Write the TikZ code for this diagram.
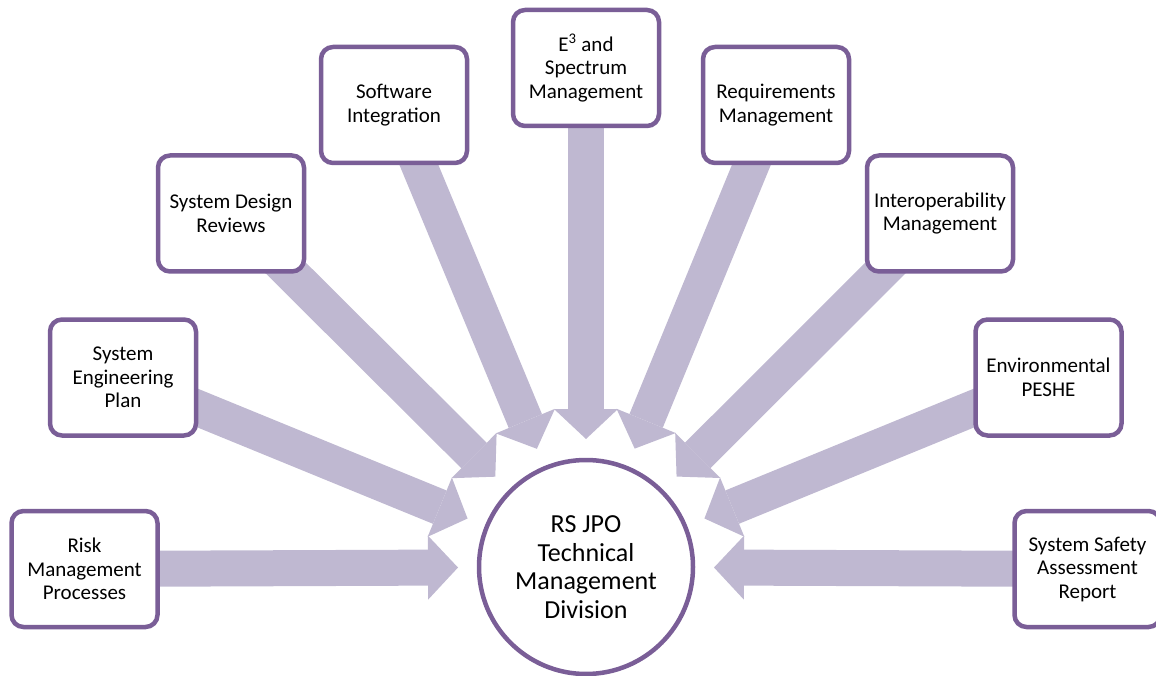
\documentclass[tikz,border=0pt]{standalone}
\usepackage{fontspec}
\setmainfont{Carlito}
\usetikzlibrary{arrows.meta,calc,backgrounds}
\definecolor{bordc}{RGB}{122,94,151}
\definecolor{arrc}{RGB}{191,184,209}
\tikzset{
 box/.style={draw=bordc, line width=4.5pt, fill=white, rounded corners=12pt,
   minimum width=146pt, minimum height=116pt, align=center,
   font=\fontsize{21}{23.5}\selectfont, inner sep=0pt},
 hub/.style={circle, draw=bordc, line width=4.5pt, fill=white, minimum size=214pt,
   align=center, font=\fontsize{26}{28.5}\selectfont, inner sep=0pt},
 bigarrow/.style={draw=arrc, line width=36pt,
   -{Triangle[length=30pt,width=64pt,line width=0pt]}},
}
\begin{document}
\begin{tikzpicture}[x=1pt,y=-1pt]
\useasboundingbox (0,0) rectangle (1156,676);
\node[hub] (hub) at (586,567) {RS JPO\\Technical\\Management\\Division};
\node[box] (risk) at (84.5,569) {Risk\\Management\\Processes};
\node[box] (sep) at (123,377.5) {System\\Engineering\\Plan};
\node[box] (sdr) at (231,213.5) {System Design\\Reviews};
\node[box] (si) at (394,105) {Software\\Integration};
\node[box] (e3) at (586,68) {E\textsuperscript{3} and\\Spectrum\\Management};
\node[box] (req) at (776,105) {Requirements\\Management};
\node[box] (inter) at (940,213.5) {Interoperability\\Management};
\node[box] (env) at (1048.5,377.5) {Environmental\\PESHE};
\node[box] (safe) at (1087.5,569) {System Safety\\Assessment\\Report};
\foreach \n in {risk,sep,sdr,si,e3,req,inter,env,safe}{
  \coordinate (t\n) at ($(hub)!128pt!(\n)$);
}
\begin{scope}[on background layer]
\foreach \n in {risk,sep,sdr,si,e3,req,inter,env,safe}{
  \draw[bigarrow] (\n.center) -- (t\n);
}
\end{scope}
\end{tikzpicture}
\end{document}
